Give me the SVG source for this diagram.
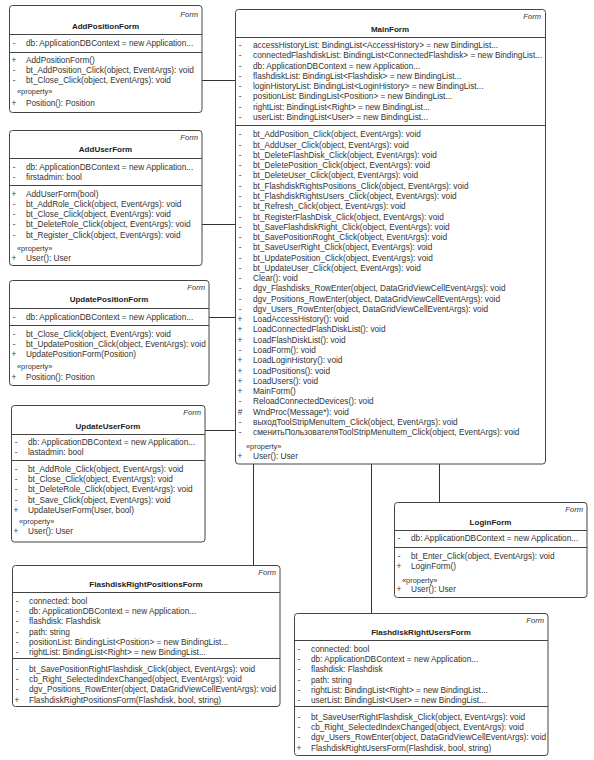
<svg xmlns="http://www.w3.org/2000/svg" width="594" height="760" viewBox="0 0 594 760">
<style>
text{font-family:"Liberation Sans",Arial,sans-serif;fill:#333}
.t{font-size:8.25px}
.v{font-size:8.25px;text-anchor:middle}
.b{font-size:8px;font-weight:bold;text-anchor:middle;fill:#222}
.f{font-size:7.6px;font-style:italic;text-anchor:end}
.s{font-size:7.4px}
.box{fill:#fff;stroke:#444;stroke-width:1}
.sep{stroke:#444;stroke-width:1}
.c{stroke:#333;stroke-width:1;fill:none}
</style>
<rect width="594" height="760" fill="#fff"/>
<g id="connectors">
<line class="c" x1="202" y1="80.5" x2="235" y2="80.5"/>
<line class="c" x1="202" y1="224.5" x2="235" y2="224.5"/>
<line class="c" x1="209" y1="317.5" x2="235" y2="317.5"/>
<line class="c" x1="205" y1="430.5" x2="235" y2="430.5"/>
<line class="c" x1="253.5" y1="464" x2="253.5" y2="565"/>
<line class="c" x1="371.5" y1="464" x2="371.5" y2="613"/>
<line class="c" x1="439.5" y1="464" x2="439.5" y2="502"/>
</g>
<g id="AddPositionForm">
<rect class="box" x="9.5" y="5.5" width="192.5" height="107" rx="3"/>
<text class="f" x="198" y="16.5">Form</text>
<text class="b" x="105.5" y="29">AddPositionForm</text>
<line class="sep" x1="9.5" y1="34.5" x2="202" y2="34.5"/>
<text class="v" x="14" y="46">-</text><text class="t" x="26" y="46">db: ApplicationDBContext = new Application...</text>
<line class="sep" x1="9.5" y1="52.5" x2="202" y2="52.5"/>
<text class="v" x="14" y="63">+</text><text class="t" x="26" y="63">AddPositionForm()</text>
<text class="v" x="14" y="73">-</text><text class="t" x="26" y="73">bt_AddPosition_Click(object, EventArgs): void</text>
<text class="v" x="14" y="83">-</text><text class="t" x="26" y="83">bt_Close_Click(object, EventArgs): void</text>
<text class="s" x="17" y="93.5">«property»</text>
<text class="v" x="14" y="106">+</text><text class="t" x="26" y="106">Position(): Position</text>
</g>
<g id="AddUserForm">
<rect class="box" x="9.5" y="130.5" width="192.5" height="135" rx="3"/>
<text class="f" x="198" y="139.5">Form</text>
<text class="b" x="105.5" y="152">AddUserForm</text>
<line class="sep" x1="9.5" y1="158.5" x2="202" y2="158.5"/>
<text class="v" x="14" y="170">-</text><text class="t" x="26" y="170">db: ApplicationDBContext = new Application...</text>
<text class="v" x="14" y="180">-</text><text class="t" x="26" y="180">firstadmin: bool</text>
<line class="sep" x1="9.5" y1="185.5" x2="202" y2="185.5"/>
<text class="v" x="14" y="196.5">+</text><text class="t" x="26" y="196.5">AddUserForm(bool)</text>
<text class="v" x="14" y="206.7">-</text><text class="t" x="26" y="206.7">bt_AddRole_Click(object, EventArgs): void</text>
<text class="v" x="14" y="217">-</text><text class="t" x="26" y="217">bt_Close_Click(object, EventArgs): void</text>
<text class="v" x="14" y="227.2">-</text><text class="t" x="26" y="227.2">bt_DeleteRole_Click(object, EventArgs): void</text>
<text class="v" x="14" y="237.5">-</text><text class="t" x="26" y="237.5">bt_Register_Click(object, EventArgs): void</text>
<text class="s" x="17" y="250.5">«property»</text>
<text class="v" x="14" y="261">+</text><text class="t" x="26" y="261">User(): User</text>
</g>
<g id="UpdatePositionForm">
<rect class="box" x="9.5" y="280.5" width="199.5" height="105" rx="3"/>
<text class="f" x="205" y="289.5">Form</text>
<text class="b" x="109" y="302">UpdatePositionForm</text>
<line class="sep" x1="9.5" y1="308.5" x2="209" y2="308.5"/>
<text class="v" x="14" y="320">-</text><text class="t" x="26" y="320">db: ApplicationDBContext = new Application...</text>
<line class="sep" x1="9.5" y1="325.5" x2="209" y2="325.5"/>
<text class="v" x="14" y="337">-</text><text class="t" x="26" y="337">bt_Close_Click(object, EventArgs): void</text>
<text class="v" x="14" y="347">-</text><text class="t" x="26" y="347">bt_UpdatePosition_Click(object, EventArgs): void</text>
<text class="v" x="14" y="357">+</text><text class="t" x="26" y="357">UpdatePositionForm(Position)</text>
<text class="s" x="17" y="368.5">«property»</text>
<text class="v" x="14" y="380">+</text><text class="t" x="26" y="380">Position(): Position</text>
</g>
<g id="UpdateUserForm">
<rect class="box" x="11.5" y="405.5" width="193.5" height="136.5" rx="3"/>
<text class="f" x="201" y="414.5">Form</text>
<text class="b" x="108" y="429">UpdateUserForm</text>
<line class="sep" x1="11.5" y1="434.5" x2="205" y2="434.5"/>
<text class="v" x="16" y="444.5">-</text><text class="t" x="28" y="444.5">db: ApplicationDBContext = new Application...</text>
<text class="v" x="16" y="454.5">-</text><text class="t" x="28" y="454.5">lastadmin: bool</text>
<line class="sep" x1="11.5" y1="460.5" x2="205" y2="460.5"/>
<text class="v" x="16" y="472">-</text><text class="t" x="28" y="472">bt_AddRole_Click(object, EventArgs): void</text>
<text class="v" x="16" y="482.2">-</text><text class="t" x="28" y="482.2">bt_Close_Click(object, EventArgs): void</text>
<text class="v" x="16" y="492.4">-</text><text class="t" x="28" y="492.4">bt_DeleteRole_Click(object, EventArgs): void</text>
<text class="v" x="16" y="502.6">-</text><text class="t" x="28" y="502.6">bt_Save_Click(object, EventArgs): void</text>
<text class="v" x="16" y="512.8">+</text><text class="t" x="28" y="512.8">UpdateUserForm(User, bool)</text>
<text class="s" x="19" y="523.5">«property»</text>
<text class="v" x="16" y="534">+</text><text class="t" x="28" y="534">User(): User</text>
</g>
<g id="MainForm">
<rect class="box" x="235.5" y="9.5" width="310" height="454.5" rx="3"/>
<text class="f" x="541" y="18.5">Form</text>
<text class="b" x="390" y="32">MainForm</text>
<line class="sep" x1="235.5" y1="37.5" x2="545.5" y2="37.5"/>
<text class="v" x="240" y="48">-</text><text class="t" x="253" y="48">accessHistoryList: BindingList&lt;AccessHistory&gt; = new BindingList...</text>
<text class="v" x="240" y="58.25">-</text><text class="t" x="253" y="58.25">connectedFlashdiskList: BindingList&lt;ConnectedFlashdisk&gt; = new BindingList...</text>
<text class="v" x="240" y="68.5">-</text><text class="t" x="253" y="68.5">db: ApplicationDBContext = new Application...</text>
<text class="v" x="240" y="78.75">-</text><text class="t" x="253" y="78.75">flashdiskList: BindingList&lt;Flashdisk&gt; = new BindingList...</text>
<text class="v" x="240" y="89">-</text><text class="t" x="253" y="89">loginHistoryList: BindingList&lt;LoginHistory&gt; = new BindingList...</text>
<text class="v" x="240" y="99.25">-</text><text class="t" x="253" y="99.25">positionList: BindingList&lt;Position&gt; = new BindingList...</text>
<text class="v" x="240" y="109.5">-</text><text class="t" x="253" y="109.5">rightList: BindingList&lt;Right&gt; = new BindingList...</text>
<text class="v" x="240" y="119.75">-</text><text class="t" x="253" y="119.75">userList: BindingList&lt;User&gt; = new BindingList...</text>
<line class="sep" x1="235.5" y1="125.5" x2="545.5" y2="125.5"/>
<text class="v" x="240" y="137.3">-</text><text class="t" x="253" y="137.3">bt_AddPosition_Click(object, EventArgs): void</text>
<text class="v" x="240" y="147.6">-</text><text class="t" x="253" y="147.6">bt_AddUser_Click(object, EventArgs): void</text>
<text class="v" x="240" y="157.8">-</text><text class="t" x="253" y="157.8">bt_DeleteFlashDisk_Click(object, EventArgs): void</text>
<text class="v" x="240" y="168.1">-</text><text class="t" x="253" y="168.1">bt_DeletePosition_Click(object, EventArgs): void</text>
<text class="v" x="240" y="178.4">-</text><text class="t" x="253" y="178.4">bt_DeleteUser_Click(object, EventArgs): void</text>
<text class="v" x="240" y="188.7">-</text><text class="t" x="253" y="188.7">bt_FlashdiskRightsPositions_Click(object, EventArgs): void</text>
<text class="v" x="240" y="198.9">-</text><text class="t" x="253" y="198.9">bt_FlashdiskRightsUsers_Click(object, EventArgs): void</text>
<text class="v" x="240" y="209.2">-</text><text class="t" x="253" y="209.2">bt_Refresh_Click(object, EventArgs): void</text>
<text class="v" x="240" y="219.5">-</text><text class="t" x="253" y="219.5">bt_RegisterFlashDisk_Click(object, EventArgs): void</text>
<text class="v" x="240" y="229.7">-</text><text class="t" x="253" y="229.7">bt_SaveFlashdiskRight_Click(object, EventArgs): void</text>
<text class="v" x="240" y="240">-</text><text class="t" x="253" y="240">bt_SavePositionRoght_Click(object, EventArgs): void</text>
<text class="v" x="240" y="250.3">-</text><text class="t" x="253" y="250.3">bt_SaveUserRight_Click(object, EventArgs): void</text>
<text class="v" x="240" y="260.5">-</text><text class="t" x="253" y="260.5">bt_UpdatePosition_Click(object, EventArgs): void</text>
<text class="v" x="240" y="270.8">-</text><text class="t" x="253" y="270.8">bt_UpdateUser_Click(object, EventArgs): void</text>
<text class="v" x="240" y="281.1">-</text><text class="t" x="253" y="281.1">Clear(): void</text>
<text class="v" x="240" y="291.4">-</text><text class="t" x="253" y="291.4">dgv_Flashdisks_RowEnter(object, DataGridViewCellEventArgs): void</text>
<text class="v" x="240" y="301.6">-</text><text class="t" x="253" y="301.6">dgv_Positions_RowEnter(object, DataGridViewCellEventArgs): void</text>
<text class="v" x="240" y="311.9">-</text><text class="t" x="253" y="311.9">dgv_Users_RowEnter(object, DataGridViewCellEventArgs): void</text>
<text class="v" x="240" y="322.2">+</text><text class="t" x="253" y="322.2">LoadAccessHistory(): void</text>
<text class="v" x="240" y="332.4">+</text><text class="t" x="253" y="332.4">LoadConnectedFlashDiskList(): void</text>
<text class="v" x="240" y="342.7">+</text><text class="t" x="253" y="342.7">LoadFlashDiskList(): void</text>
<text class="v" x="240" y="353">-</text><text class="t" x="253" y="353">LoadForm(): void</text>
<text class="v" x="240" y="363.2">+</text><text class="t" x="253" y="363.2">LoadLoginHistory(): void</text>
<text class="v" x="240" y="373.5">+</text><text class="t" x="253" y="373.5">LoadPositions(): void</text>
<text class="v" x="240" y="383.8">+</text><text class="t" x="253" y="383.8">LoadUsers(): void</text>
<text class="v" x="240" y="394.1">+</text><text class="t" x="253" y="394.1">MainForm()</text>
<text class="v" x="240" y="404.3">-</text><text class="t" x="253" y="404.3">ReloadConnectedDevices(): void</text>
<text class="v" x="240" y="414.6">#</text><text class="t" x="253" y="414.6">WndProc(Message*): void</text>
<text class="v" x="240" y="424.9">-</text><text class="t" x="253" y="424.9">выходToolStripMenuItem_Click(object, EventArgs): void</text>
<text class="v" x="240" y="435.1">-</text><text class="t" x="253" y="435.1">сменитьПользователяToolStripMenuItem_Click(object, EventArgs): void</text>
<text class="s" x="246" y="448.5">«property»</text>
<text class="v" x="240" y="459">+</text><text class="t" x="253" y="459">User(): User</text>
</g>
<g id="LoginForm">
<rect class="box" x="394.5" y="502.5" width="192.5" height="95" rx="3"/>
<text class="f" x="583" y="511.5">Form</text>
<text class="b" x="490.5" y="525">LoginForm</text>
<line class="sep" x1="394.5" y1="530.5" x2="587" y2="530.5"/>
<text class="v" x="399" y="541">-</text><text class="t" x="411" y="541">db: ApplicationDBContext = new Application...</text>
<line class="sep" x1="394.5" y1="547.5" x2="587" y2="547.5"/>
<text class="v" x="399" y="559">-</text><text class="t" x="411" y="559">bt_Enter_Click(object, EventArgs): void</text>
<text class="v" x="399" y="569">+</text><text class="t" x="411" y="569">LoginForm()</text>
<text class="s" x="402" y="582.5">«property»</text>
<text class="v" x="399" y="592">+</text><text class="t" x="411" y="592">User(): User</text>
</g>
<g id="FlashdiskRightPositionsForm">
<rect class="box" x="12.5" y="565.5" width="267.5" height="141" rx="3"/>
<text class="f" x="276" y="574.5">Form</text>
<text class="b" x="146" y="587">FlashdiskRightPositionsForm</text>
<line class="sep" x1="12.5" y1="592.5" x2="280" y2="592.5"/>
<text class="v" x="17" y="604">-</text><text class="t" x="29" y="604">connected: bool</text>
<text class="v" x="17" y="614.2">-</text><text class="t" x="29" y="614.2">db: ApplicationDBContext = new Application...</text>
<text class="v" x="17" y="624.4">-</text><text class="t" x="29" y="624.4">flashdisk: Flashdisk</text>
<text class="v" x="17" y="634.6">-</text><text class="t" x="29" y="634.6">path: string</text>
<text class="v" x="17" y="644.8">-</text><text class="t" x="29" y="644.8">positionList: BindingList&lt;Position&gt; = new BindingList...</text>
<text class="v" x="17" y="655">-</text><text class="t" x="29" y="655">rightList: BindingList&lt;Right&gt; = new BindingList...</text>
<line class="sep" x1="12.5" y1="658.5" x2="280" y2="658.5"/>
<text class="v" x="17" y="672">-</text><text class="t" x="29" y="672">bt_SavePositionRightFlashdisk_Click(object, EventArgs): void</text>
<text class="v" x="17" y="682.2">-</text><text class="t" x="29" y="682.2">cb_Right_SelectedIndexChanged(object, EventArgs): void</text>
<text class="v" x="17" y="692.4">-</text><text class="t" x="29" y="692.4">dgv_Positions_RowEnter(object, DataGridViewCellEventArgs): void</text>
<text class="v" x="17" y="702.6">+</text><text class="t" x="29" y="702.6">FlashdiskRightPositionsForm(Flashdisk, bool, string)</text>
</g>
<g id="FlashdiskRightUsersForm">
<rect class="box" x="294.5" y="613.5" width="253.5" height="142" rx="3"/>
<text class="f" x="544" y="622.5">Form</text>
<text class="b" x="421" y="635">FlashdiskRightUsersForm</text>
<line class="sep" x1="294.5" y1="640.5" x2="548" y2="640.5"/>
<text class="v" x="299" y="652">-</text><text class="t" x="311" y="652">connected: bool</text>
<text class="v" x="299" y="662.2">-</text><text class="t" x="311" y="662.2">db: ApplicationDBContext = new Application...</text>
<text class="v" x="299" y="672.4">-</text><text class="t" x="311" y="672.4">flashdisk: Flashdisk</text>
<text class="v" x="299" y="682.6">-</text><text class="t" x="311" y="682.6">path: string</text>
<text class="v" x="299" y="692.8">-</text><text class="t" x="311" y="692.8">rightList: BindingList&lt;Right&gt; = new BindingList...</text>
<text class="v" x="299" y="703">-</text><text class="t" x="311" y="703">userList: BindingList&lt;User&gt; = new BindingList...</text>
<line class="sep" x1="294.5" y1="706.5" x2="548" y2="706.5"/>
<text class="v" x="299" y="720">-</text><text class="t" x="311" y="720">bt_SaveUserRightFlashdisk_Click(object, EventArgs): void</text>
<text class="v" x="299" y="730.2">-</text><text class="t" x="311" y="730.2">cb_Right_SelectedIndexChanged(object, EventArgs): void</text>
<text class="v" x="299" y="740.4">-</text><text class="t" x="311" y="740.4">dgv_Users_RowEnter(object, DataGridViewCellEventArgs): void</text>
<text class="v" x="299" y="750.6">+</text><text class="t" x="311" y="750.6">FlashdiskRightUsersForm(Flashdisk, bool, string)</text>
</g>
</svg>
